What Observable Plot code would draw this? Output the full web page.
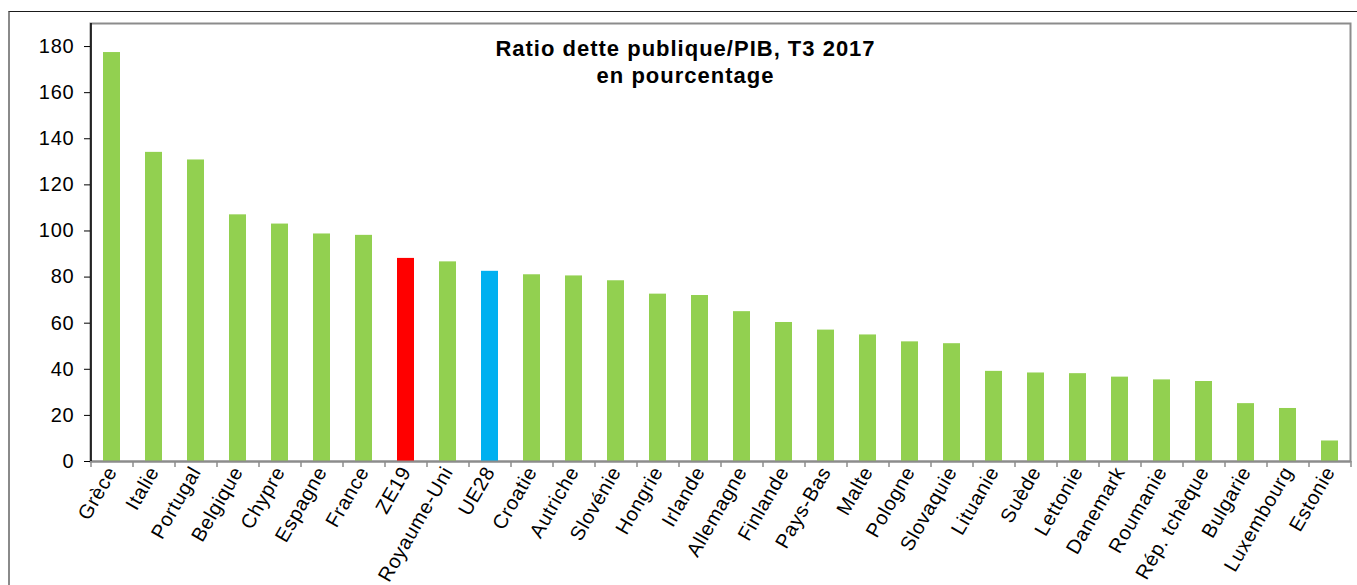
<!DOCTYPE html>
<html><head><meta charset="utf-8">
<script src="https://cdn.jsdelivr.net/npm/d3@7"></script>
<script src="https://cdn.jsdelivr.net/npm/@observablehq/plot@0.6"></script>
<style>
body{margin:0;background:#fff;}
#wrap{position:relative;width:1357px;height:585px;overflow:hidden;background:#fff;}
#outer{position:absolute;left:8px;top:11px;width:1500px;height:700px;border-left:2px solid #8a8a8a;border-top:1px solid #1a1a1a;}
#chart{position:absolute;left:0;top:0;}
</style></head><body>
<div id="wrap"><div id="outer"></div><div id="chart"></div></div>
<script>
const countries = ["Grèce","Italie","Portugal","Belgique","Chypre","Espagne","France","ZE19","Royaume-Uni","UE28","Croatie","Autriche","Slovénie","Hongrie","Irlande","Allemagne","Finlande","Pays-Bas","Malte","Pologne","Slovaquie","Lituanie","Suède","Lettonie","Danemark","Roumanie","Rép. tchèque","Bulgarie","Luxembourg","Estonie"];
const values = [177.4,134.1,130.8,107.0,103.0,98.7,98.1,88.1,86.6,82.5,81.0,80.5,78.4,72.6,72.0,65.0,60.3,57.0,54.9,51.9,51.1,39.1,38.4,38.1,36.6,35.4,34.7,25.1,23.0,8.9];
const highlight = {"ZE19":"#FF0000","UE28":"#00B0F0"};
const baseColor = "#92D050";
const yTicks = [0,20,40,60,80,100,120,140,160,180];
const titleLines = ["Ratio dette publique/PIB, T3 2017","en pourcentage"];

const data = countries.map((c,i)=>({country:c, value:values[i]}));

const chart = Plot.plot({
  width:1357, height:585,
  marginLeft:90, marginRight:7, marginTop:23, marginBottom:124,
  style:{fontFamily:"'Liberation Sans', Arial, sans-serif", background:"transparent", color:"#000"},
  x:{domain:countries, paddingInner:0.6, paddingOuter:0.3, label:null},
  y:{domain:[0,190], label:null},
  color:{type:"identity"},
  marks:[
    Plot.frame({stroke:"#8c8c8c", strokeWidth:2}),
    Plot.barY(data,{x:"country", y:"value", fill:d=>highlight[d.country] ?? baseColor}),
    Plot.ruleY([0],{stroke:"#8c8c8c", strokeWidth:2}),
    Plot.axisX({fill:"none", tickSize:6, dx:-21, stroke:"#8c8c8c", strokeWidth:1.5, label:null}),
    Plot.axisX({ticks:[countries[countries.length-1]], fill:"none", tickSize:6, dx:21, stroke:"#8c8c8c", strokeWidth:1.5, label:null}),
    Plot.axisX({tickSize:0, tickRotate:-60, tickPadding:7, fontSize:20, fill:"#000", label:null}),
    Plot.ruleX([countries[0]],{dx:-21, stroke:"#000", strokeWidth:1.5}),
    Plot.axisY({ticks:yTicks, tickSize:6, tickPadding:10, fontSize:20, stroke:"#000", fill:"#000", label:null}),
    Plot.text([titleLines.join("\n")],{frameAnchor:"top", dx:-35, dy:14, fontSize:22, fontWeight:"bold", lineHeight:1.2, fill:"#000"})
  ]
});
chart.querySelectorAll('g[aria-label="text"] text').forEach(t=>t.style.letterSpacing="1px");
chart.querySelectorAll('g[aria-label="x-axis tick label"] text').forEach(t=>t.style.letterSpacing="0.6px");
chart.querySelectorAll('g[aria-label="y-axis tick label"] text').forEach(t=>t.style.letterSpacing="0.8px");
document.getElementById("chart").appendChild(chart);
</script>
</body></html>
